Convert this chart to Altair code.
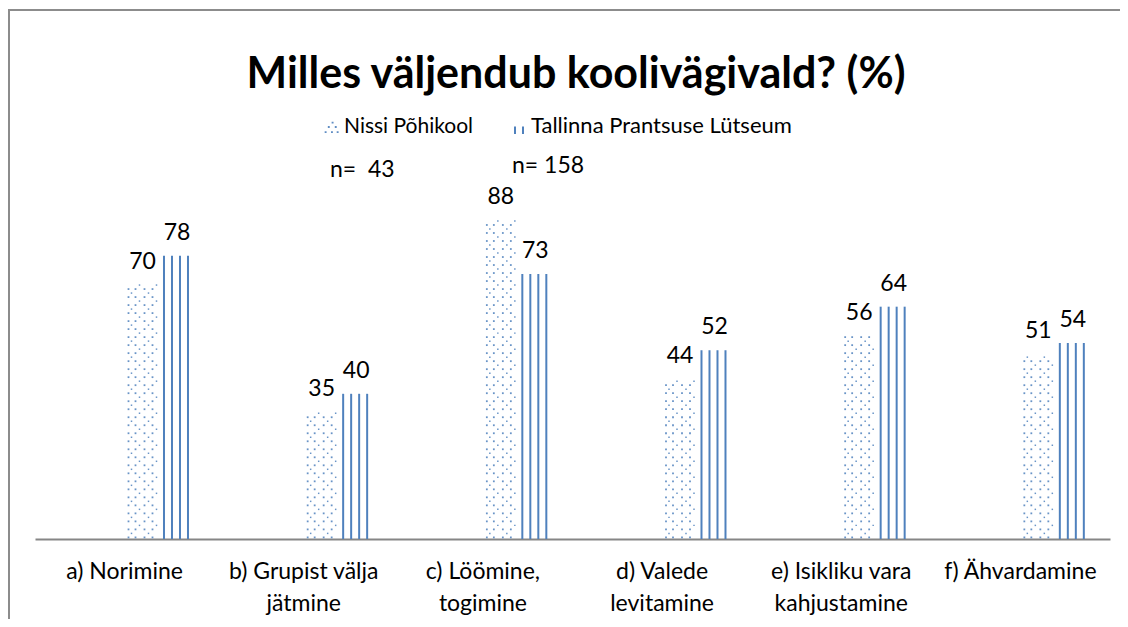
import altair as alt
import pandas as pd

# ---- data ----
categories = ["a) Norimine", "b) Grupist välja jätmine", "c) Löömine, togimine",
              "d) Valede levitamine", "e) Isikliku vara kahjustamine", "f) Ähvardamine"]
category_lines = [["a) Norimine"], ["b) Grupist välja", "jätmine"], ["c) Löömine,", "togimine"],
                  ["d) Valede", "levitamine"], ["e) Isikliku vara", "kahjustamine"], ["f) Ähvardamine"]]
series = ["Nissi Põhikool", "Tallinna Prantsuse Lütseum"]
nissi = [70, 35, 88, 44, 56, 51]
tallinna = [78, 40, 73, 52, 64, 54]
sample_sizes = ["n=\u00a0 43", "n= 158"]
title_text = "Milles väljendub koolivägivald? (%)"

BLUE = "#4F81BD"
FONT = "Lato"
W, H = 1075, 363
# position of each series' bar centre inside a category band (fraction of the band)
BANDPOS = {series[0]: 0.600, series[1]: 0.7925}

rows = []
for c, a, b in zip(categories, nissi, tallinna):
    rows.append({"cat": c, "series": series[0], "value": a})
    rows.append({"cat": c, "series": series[1], "value": b})
df = pd.DataFrame(rows)
labels_df = pd.DataFrame({"cat": categories, "lines": category_lines})

xaxis = alt.Axis(labels=False, ticks=False, title=None, grid=False,
                 domainColor="#868686", domainWidth=2)
xscale = alt.Scale(domain=categories, paddingInner=0, paddingOuter=0)


def X(s=None):
    if s is None:
        return alt.X("cat:N", scale=xscale, axis=xaxis)
    return alt.X("cat:N", scale=xscale, axis=xaxis, bandPosition=BANDPOS[s])


yscale = alt.Scale(domain=[0, 100])

base = alt.Chart(df)
layers = []

# dotted pattern for Nissi Põhikool (4-row repeating dot tile)
step = 1.1034
dots = (base.transform_filter(alt.datum.series == series[0])
        .transform_calculate(ks=f"sequence(0, floor(datum.value/{step} - 0.4) + 1)")
        .transform_flatten(["ks"], as_=["k"])
        .transform_calculate(yv=f"(datum.k + 0.4) * {step}", phase="datum.k % 4"))
tile = [(0, [-14, -7, 2, 10], 3.2), (1, [-11, 6], 2.2), (2, [-14, -7, 2, 10], 3.2), (3, [-3, 14], 2.2)]
for phase, offs, sz in tile:
    for o in offs:
        layers.append(
            dots.transform_filter(alt.datum.phase == phase)
            .mark_square(size=sz, color=BLUE, opacity=0.85, xOffset=o)
            .encode(x=X(series[0]), y=alt.Y("yv:Q", scale=yscale, axis=None))
        )

# vertical stripe pattern for Tallinna Prantsuse Lütseum
for o in [-13, -5, 3, 11]:
    layers.append(
        base.transform_filter(alt.datum.series == series[1])
        .mark_rule(color=BLUE, strokeWidth=2, xOffset=o)
        .encode(x=X(series[1]), y=alt.Y("value:Q", scale=yscale, axis=None), y2=alt.datum(0))
    )

# value labels
for s in series:
    layers.append(
        base.transform_filter(alt.datum.series == s)
        .mark_text(font=FONT, fontSize=23, color="#000000", baseline="alphabetic", dy=-16)
        .encode(x=X(s), y=alt.Y("value:Q", scale=yscale, axis=None), text="value:Q")
    )

# category labels (wrapped)
layers.append(
    alt.Chart(labels_df)
    .mark_text(font=FONT, fontSize=23, color="#000000", baseline="alphabetic", lineHeight=31.5)
    .encode(x=X(), y=alt.value(H + 40), text="lines")
)

one = alt.Data(values=[{"a": 1}])

# title
layers.append(
    alt.Chart(one).mark_text(text=title_text, font=FONT, fontSize=43, fontWeight="bold",
                             color="#000000", baseline="alphabetic", align="center")
    .encode(x=alt.value(541), y=alt.value(-88))
)

# legend
nissi_sym = ("M0.1,-1h0.3v0.3h-0.3z M-0.5,-0.3h0.3v0.3h-0.3z M0.6,-0.3h0.3v0.3h-0.3z "
             "M-1,0.5h0.3v0.3h-0.3z M0.0,0.5h0.3v0.3h-0.3z M0.9,0.5h0.3v0.3h-0.3z")
layers.append(
    alt.Chart(one).mark_point(shape=nissi_sym, size=160, filled=True, color=BLUE, opacity=0.9)
    .encode(x=alt.value(296), y=alt.value(-48))
)
layers.append(
    alt.Chart(one).mark_point(shape="M-1,-0.9L-1,1M1,-0.9L1,1", size=64, filled=False,
                              color=BLUE, strokeWidth=2, opacity=1)
    .encode(x=alt.value(484), y=alt.value(-46))
)
layers.append(
    alt.Chart(one).mark_text(text=series[0], font=FONT, fontSize=21, color="#000000",
                             baseline="alphabetic", align="left")
    .encode(x=alt.value(309), y=alt.value(-43))
)
layers.append(
    alt.Chart(one).mark_text(text=series[1], font=FONT, fontSize=22, color="#000000",
                             baseline="alphabetic", align="left")
    .encode(x=alt.value(496), y=alt.value(-43))
)
layers.append(
    alt.Chart(one).mark_text(text=sample_sizes[0], font=FONT, fontSize=23, color="#000000",
                             baseline="alphabetic", align="left")
    .encode(x=alt.value(295), y=alt.value(1))
)
layers.append(
    alt.Chart(one).mark_text(text=sample_sizes[1], font=FONT, fontSize=23, color="#000000",
                             baseline="alphabetic", align="left")
    .encode(x=alt.value(477), y=alt.value(-3))
)

# chart frame (top and left edges)
layers.append(
    alt.Chart(one).mark_rule(color="#8C8C8C", strokeWidth=2)
    .encode(x=alt.value(-27), x2=alt.value(1085), y=alt.value(-166))
)
layers.append(
    alt.Chart(one).mark_rule(color="#8C8C8C", strokeWidth=2)
    .encode(x=alt.value(-26), y=alt.value(-167), y2=alt.value(443))
)

chart = (
    alt.layer(*layers)
    .properties(width=W, height=H,
                autosize=alt.AutoSizeParams(type="none"),
                padding={"left": 27, "top": 168, "right": 10, "bottom": 80},
                background="white")
    .configure_view(stroke=None)
)

chart.save("out.html", embed_options={"renderer": "svg", "actions": False})
